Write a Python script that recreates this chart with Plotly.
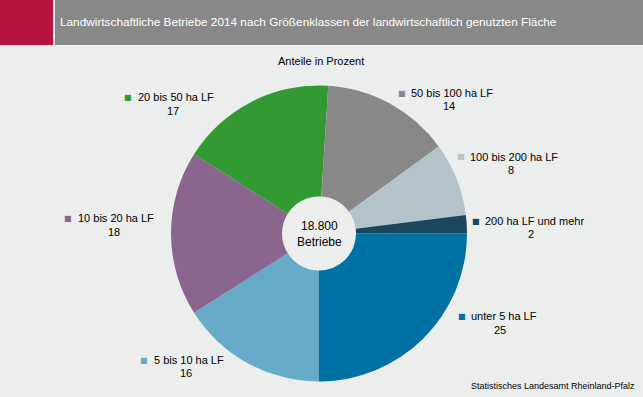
import plotly.graph_objects as go

categories = ["unter 5 ha LF", "5 bis 10 ha LF", "10 bis 20 ha LF", "20 bis 50 ha LF",
              "50 bis 100 ha LF", "100 bis 200 ha LF", "200 ha LF und mehr"]
values = [25, 16, 18, 17, 14, 8, 2]
colors = ["#0071A3", "#67AAC8", "#8A658E", "#339933", "#888888", "#B4C2CA", "#1B465E"]
title = "Landwirtschaftliche Betriebe 2014 nach Größenklassen der landwirtschaftlich genutzten Fläche"
subtitle = "Anteile in Prozent"
center_text = "18.800<br>Betriebe"
source = "Statistisches Landesamt Rheinland-Pfalz"

# label layout in pixels: (square x, text left x, label y, value centre x, value y)
label_pos = [(462, 469, 316, 500, 330), (144, 152, 360, 186, 373), (68, 76, 218, 114, 232),
             (128, 136, 97, 173, 111), (402, 409, 93, 449, 106), (461, 468, 157, 511, 170),
             (476, 483, 221, 531, 234)]

W, H = 643, 397
BG = "#ECEDED"


def px(x):
    return x / W


def py(y):
    return 1 - y / H


cx, cy, r = 319, 233.5, 148

fig = go.Figure(go.Pie(
    labels=categories, values=values, sort=False, direction="clockwise", rotation=90,
    hole=0.25, marker=dict(colors=colors, line=dict(width=0)), textinfo="none",
    hoverinfo="label+value", showlegend=False,
    domain=dict(x=[px(cx - r), px(cx + r)], y=[py(cy + r), py(cy - r)]),
))

FAM = "Liberation Sans, Arial, sans-serif"
font = dict(family=FAM, size=11, color="#000000")
ann = []
for cat, val, col, (sx, tx, ty, vx, vy) in zip(categories, values, colors, label_pos):
    ann.append(dict(x=px(tx), y=py(ty), xref="paper", yref="paper", xanchor="left",
                    yanchor="middle", showarrow=False, text=cat, font=font))
    ann.append(dict(x=px(vx), y=py(vy), xref="paper", yref="paper", xanchor="center",
                    yanchor="middle", showarrow=False, text=str(val), font=font))
    ann.append(dict(x=px(sx), y=py(ty), xref="paper", yref="paper", xanchor="center",
                    yanchor="middle", showarrow=False, text="■",
                    font=dict(family="DejaVu Sans", size=8, color=col)))

ann.append(dict(x=px(58), y=py(22), xref="paper", yref="paper", xanchor="left", yanchor="middle",
                showarrow=False, text=title,
                font=dict(family=FAM, size=11.8, color="#FFFFFF")))
ann.append(dict(x=px(321), y=py(61), xref="paper", yref="paper", xanchor="center", yanchor="middle",
                showarrow=False, text=subtitle, font=font))
ann.append(dict(x=px(cx), y=py(cy), xref="paper", yref="paper", xanchor="center", yanchor="middle",
                showarrow=False, text=center_text, align="center",
                font=dict(family=FAM, size=12, color="#000000")))
ann.append(dict(x=px(637), y=py(386), xref="paper", yref="paper", xanchor="right", yanchor="middle",
                showarrow=False, text=source,
                font=dict(family=FAM, size=9, color="#000000")))

shapes = [
    dict(type="rect", xref="paper", yref="paper", x0=0, x1=px(53), y0=py(45), y1=1,
         fillcolor="#B5123E", line=dict(width=0), layer="below"),
    dict(type="rect", xref="paper", yref="paper", x0=px(55), x1=1, y0=py(45), y1=1,
         fillcolor="#888888", line=dict(width=0), layer="below"),
]

fig.update_layout(width=W, height=H, margin=dict(l=0, r=0, t=0, b=0),
                  paper_bgcolor=BG, plot_bgcolor=BG, annotations=ann, shapes=shapes)

fig.write_html("out.html", config={"displayModeBar": False},
               post_script="document.body.style.margin='0';document.body.style.padding='0';"
                           "document.body.style.overflow='hidden';document.body.style.background='%s';" % BG)
